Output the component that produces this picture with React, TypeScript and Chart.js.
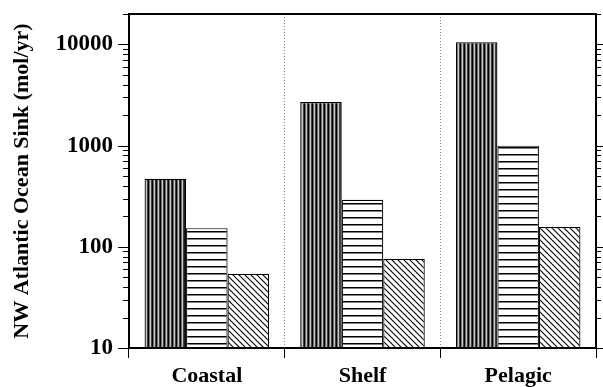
import React, { useEffect, useRef } from "react";
import { Chart, registerables } from "chart.js";

Chart.register(...registerables);

const categories = ["Coastal", "Shelf", "Pelagic"];
const seriesNames = ["Series A", "Series B", "Series C"];
const seriesA = [470, 2700, 10500];
const seriesB = [153, 292, 1000];
const seriesC = [54, 76, 157];
const yMin = 10;
const yMax = 20000;
const decades = [10, 100, 1000, 10000];
const multipliers = [1, 2, 3, 4, 5, 6, 7, 8, 9];
const yTitle = "NW Atlantic Ocean Sink (mol/yr)";

function makePattern(kind: string): CanvasPattern | string {
  const c = document.createElement("canvas");
  const ctx = c.getContext("2d");
  if (!ctx) return "#fff";
  if (kind === "v") {
    c.width = 4;
    c.height = 4;
    ctx.fillStyle = "#ffffff";
    ctx.fillRect(0, 0, 4, 4);
    ctx.fillStyle = "#000000";
    ctx.fillRect(0, 0, 1, 4);
    ctx.fillStyle = "#707070";
    ctx.fillRect(1, 0, 1, 4);
    ctx.fillStyle = "#c8c8c8";
    ctx.fillRect(2, 0, 1, 4);
    ctx.fillStyle = "#404040";
    ctx.fillRect(3, 0, 1, 4);
  } else if (kind === "h") {
    c.width = 7;
    c.height = 7;
    ctx.fillStyle = "#ffffff";
    ctx.fillRect(0, 0, 7, 7);
    ctx.fillStyle = "#000000";
    ctx.fillRect(0, 0, 7, 1.5);
  } else {
    c.width = 6;
    c.height = 6;
    ctx.fillStyle = "#ffffff";
    ctx.fillRect(0, 0, 6, 6);
    ctx.strokeStyle = "#000000";
    ctx.lineWidth = 1.1;
    ctx.beginPath();
    ctx.moveTo(-1, -1);
    ctx.lineTo(7, 7);
    ctx.moveTo(-1, 5);
    ctx.lineTo(1, 7);
    ctx.moveTo(5, -1);
    ctx.lineTo(7, 1);
    ctx.stroke();
  }
  return ctx.createPattern(c, "repeat") || "#fff";
}

const framePlugin = {
  id: "frame",
  afterDraw(chart: any) {
    const { ctx, chartArea } = chart;
    const y = chart.scales.y;
    ctx.save();
    ctx.strokeStyle = "#000";
    ctx.lineWidth = 1;
    y.ticks.forEach((t: any) => {
      const py = Math.round(y.getPixelForValue(t.value)) + 0.5;
      const isMaj = decades.includes(t.value);
      const lenL = isMaj ? 11 : 6;
      const lenR = isMaj ? 7 : 5;
      ctx.beginPath();
      ctx.moveTo(chartArea.left - lenL, py);
      ctx.lineTo(chartArea.left, py);
      ctx.moveTo(chartArea.right, py);
      ctx.lineTo(chartArea.right + lenR, py);
      ctx.stroke();
    });
    ctx.lineWidth = 2;
    ctx.strokeRect(
      chartArea.left,
      chartArea.top,
      chartArea.right - chartArea.left,
      chartArea.bottom - chartArea.top
    );
    ctx.restore();
  },
};

export default function App() {
  const ref = useRef<HTMLCanvasElement | null>(null);
  useEffect(() => {
    if (!ref.current) return;
    const font = { family: "'Liberation Serif', 'Times New Roman', serif", size: 22, weight: "bold" as const };
    const tickFont = { family: "'Liberation Serif', 'Times New Roman', serif", size: 23, weight: "bold" as const };
    const chart = new Chart(ref.current, {
      type: "bar",
      data: {
        labels: categories,
        datasets: [
          { label: seriesNames[0], data: seriesA, backgroundColor: makePattern("v") as any },
          { label: seriesNames[1], data: seriesB, backgroundColor: makePattern("h") as any },
          { label: seriesNames[2], data: seriesC, backgroundColor: makePattern("d") as any },
        ].map((d) => ({
          ...d,
          borderColor: "#000",
          borderWidth: 1.2,
          categoryPercentage: 0.8,
          barPercentage: 1.0,
        })),
      },
      options: {
        animation: false,
        responsive: true,
        maintainAspectRatio: false,
        layout: { padding: { top: 14, right: 7, left: 0, bottom: 0 } },
        plugins: { legend: { display: false }, tooltip: { enabled: false } },
        scales: {
          x: {
            offset: true,
            afterFit: (s: any) => {
              s.height = 39;
              s.paddingLeft = 0;
              s.paddingRight = 0;
            },
            grid: {
              display: true,
              drawOnChartArea: true,
              offset: true,
              color: "#8a8a8a",
              lineWidth: 1,
              drawTicks: true,
              tickLength: 10,
              tickColor: "#000",
              tickBorderDash: [],
            },
            border: { display: false, dash: [1, 2] },
            ticks: { color: "#000", font, padding: 5, maxRotation: 0 },
          },
          y: {
            type: "logarithmic",
            min: yMin,
            max: yMax,
            afterFit: (s: any) => {
              s.width = 129;
              s.paddingTop = 0;
              s.paddingBottom = 0;
            },
            afterBuildTicks: (s: any) => {
              const list: any[] = [];
              decades.forEach((d) =>
                multipliers.forEach((m) => {
                  const v = d * m;
                  if (v >= yMin && v <= yMax) list.push({ value: v, major: m === 1 });
                })
              );
              s.ticks = list;
            },
            grid: { display: true, drawOnChartArea: false, drawTicks: false },
            border: { display: false },
            ticks: {
              color: "#000",
              font: tickFont,
              padding: 16,
              autoSkip: false,
              callback: (v: any) => (decades.includes(Number(v)) ? String(v) : ""),
            },
            title: {
              display: true,
              text: yTitle,
              color: "#000",
              font,
              padding: { top: 9, bottom: 0 },
            },
          },
        },
      },
      plugins: [framePlugin],
    });
    return () => chart.destroy();
  }, []);
  return (
    <div style={{ position: "absolute", left: 0, top: 0, width: 603, height: 387 }}>
      <canvas ref={ref} />
    </div>
  );
}
